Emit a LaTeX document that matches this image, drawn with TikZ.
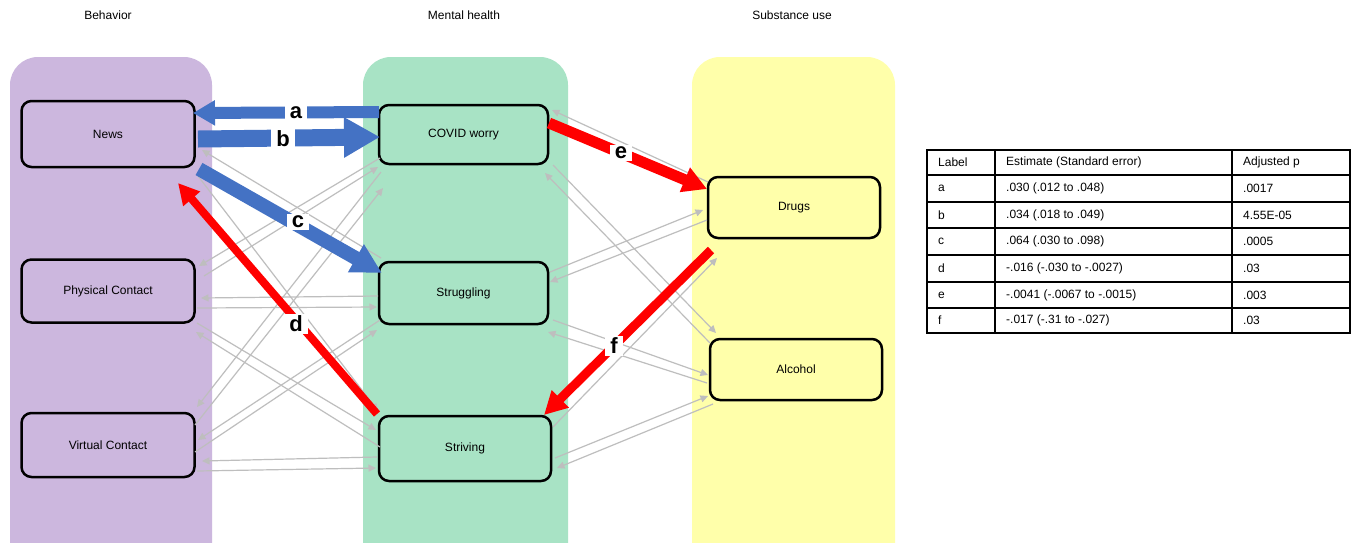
\documentclass[tikz,border=0pt]{standalone}
\usepackage{fontspec}
\setmainfont{Liberation Sans}
\usetikzlibrary{arrows.meta,calc}
\definecolor{colpurple}{RGB}{204,183,222}
\definecolor{colgreen}{RGB}{168,227,197}
\definecolor{colyellow}{RGB}{255,255,170}
\definecolor{arrblue}{RGB}{68,114,196}
\definecolor{arrred}{RGB}{255,0,0}
\definecolor{arrgray}{RGB}{190,190,190}
\tikzset{
  colbg/.style={rounded corners=28pt},
  varbox/.style={draw=black, line width=2.5pt, rounded corners=10pt, font=\fontsize{12}{14}\selectfont, inner sep=0pt},
  grayarr/.style={draw=arrgray, line width=1.2pt, -{Triangle[length=7.5pt,width=7pt]}},
  lbl/.style={fill=white, font=\bfseries\fontsize{22}{22}\selectfont, inner xsep=5pt, inner ysep=2pt},
  coltitle/.style={font=\fontsize{12}{14}\selectfont},
  cell/.style={anchor=west, font=\fontsize{12}{14}\selectfont, inner sep=0pt},
  tabline/.style={line width=1.2pt, black}
}
\begin{document}
\begin{tikzpicture}[x=1pt,y=-1pt]
\clip (0,0) rectangle (1356,542);
\fill[white] (0,0) rectangle (1356,542);
% column backgrounds
\fill[colpurple, colbg] (10,57) rectangle (212,580);
\fill[colgreen, colbg] (363,57) rectangle (568,580);
\fill[colyellow, colbg] (692,57) rectangle (895,580);
% titles
\node[coltitle] (t1) at (108,15) {Behavior};
\node[coltitle] (t2) at (464,15) {Mental health};
\node[coltitle] (t3) at (792,15) {Substance use};
% variable boxes
\node[varbox, fill=colpurple, minimum width=173pt, minimum height=66pt] (news) at (108,134) {News};
\node[varbox, fill=colpurple, minimum width=173pt, minimum height=63pt] (phys) at (108,291) {Physical Contact};
\node[varbox, fill=colpurple, minimum width=173pt, minimum height=64pt] (virt) at (108,445) {Virtual Contact};
\node[varbox, fill=colgreen, minimum width=169pt, minimum height=59pt] (covid) at (463.5,134.5) {COVID worry};
\node[varbox, fill=colgreen, minimum width=169pt, minimum height=62pt] (strug) at (463.5,293) {Struggling};
\node[varbox, fill=colgreen, minimum width=172pt, minimum height=65pt] (striv) at (465,448.5) {Striving};
\node[varbox, fill=colyellow, minimum width=172pt, minimum height=61pt] (drugs) at (794,207.5) {Drugs};
\node[varbox, fill=colyellow, minimum width=172pt, minimum height=61pt] (alco) at (796,369.5) {Alcohol};
% gray arrows behavior - mental health
\draw[grayarr] ($(strug)+(-82.5,-35)$) -- ($(news)+(94,16)$);
\draw[grayarr] ($(news)+(90,42)$) -- ($(striv)+(-87,-37.5)$);
\draw[grayarr] ($(covid)+(-83.5,23.5)$) -- ($(phys)+(91,-25)$);
\draw[grayarr] ($(phys)+(96,-15)$) -- ($(covid)+(-85.5,32.5)$);
\draw[grayarr] ($(covid)+(-82.5,37.5)$) -- ($(virt)+(89,-38)$);
\draw[grayarr] ($(virt)+(87,-20)$) -- ($(covid)+(-80.5,53.5)$);
\draw[grayarr] ($(strug)+(-85.5,3)$) -- ($(phys)+(93,7)$);
\draw[grayarr] ($(phys)+(89,17)$) -- ($(strug)+(-86.5,14)$);
\draw[grayarr] ($(phys)+(89,32)$) -- ($(striv)+(-89,-18.5)$);
\draw[grayarr] ($(striv)+(-85,-1.5)$) -- ($(phys)+(88,41)$);
\draw[grayarr] ($(strug)+(-83.5,27)$) -- ($(virt)+(90,-5)$);
\draw[grayarr] ($(virt)+(87,7)$) -- ($(strug)+(-86.5,37)$);
\draw[grayarr] ($(striv)+(-88,8.5)$) -- ($(virt)+(94,16)$);
\draw[grayarr] ($(virt)+(89,26)$) -- ($(striv)+(-89,19.5)$);
% gray arrows mental health - substance use
\draw[grayarr] ($(drugs)+(-86,-25.5)$) -- ($(covid)+(88.5,-24.5)$);
\draw[grayarr] ($(covid)+(89.5,30.5)$) -- ($(alco)+(-80,-36.5)$);
\draw[grayarr] ($(alco)+(-86,-26.5)$) -- ($(covid)+(81.5,38.5)$);
\draw[grayarr] ($(strug)+(86.5,-21)$) -- ($(drugs)+(-91,2.5)$);
\draw[grayarr] ($(drugs)+(-87,12.5)$) -- ($(strug)+(86.5,-11)$);
\draw[grayarr] ($(strug)+(89.5,27)$) -- ($(alco)+(-88,5.5)$);
\draw[grayarr] ($(alco)+(-89,13.5)$) -- ($(strug)+(84.5,39)$);
\draw[grayarr] ($(striv)+(88,-21.5)$) -- ($(drugs)+(-77,50.5)$);
\draw[grayarr] ($(striv)+(90,9.5)$) -- ($(alco)+(-88,26.5)$);
\draw[grayarr] ($(alco)+(-83,34.5)$) -- ($(striv)+(92,19.5)$);
% thick arrows
\draw[arrblue, line width=12pt, -{Triangle[length=22pt,width=24pt]}] ($(covid)+(-84.5,-22.5)$) -- ($(news)+(85,-21)$);
\draw[arrblue, line width=17pt, -{Triangle[length=36pt,width=38pt]}] ($(news)+(90,5)$) -- ($(covid)+(-83.5,2.5)$);
\draw[arrblue, line width=14pt, -{Triangle[length=30pt,width=30pt]}] ($(news)+(91,35)$) -- ($(strug)+(-81.5,-20)$);
\draw[arrred, line width=8pt, -{Triangle[length=21pt,width=21pt]}] ($(striv)+(-88,-34.5)$) -- ($(news)+(70,49)$);
\draw[arrred, line width=11pt, -{Triangle[length=24pt,width=25pt]}] ($(covid)+(85.5,-11.5)$) -- ($(drugs)+(-87,-18.5)$);
\draw[arrred, line width=9pt, -{Triangle[length=23pt,width=23pt]}] ($(drugs)+(-83,42.5)$) -- ($(striv)+(79,-33.5)$);
% labels
\node[lbl] (la) at (296,113) {a};
\node[lbl] (lb) at (283,139) {b};
\node[lbl] (lc) at (298,222) {c};
\node[lbl] (ld) at (296,324) {d};
\node[lbl] (le) at (621,153) {e};
\node[lbl] (lf) at (614,346) {f};
% table
\draw[tabline] (927,150) rectangle (1350,333);
\foreach \yy in {175,202,228,255,282,308} \draw[tabline] (927,\yy) -- (1350,\yy);
\draw[tabline] (995,150) -- (995,333);
\draw[tabline] (1232,150) -- (1232,333);
\node[cell] (h1) at (938,162.5) {Label};
\node[cell] (h2) at (1006,162.5) {Estimate (Standard error)};
\node[cell] (h3) at (1243,162.5) {Adjusted p};
\node[cell] (r1a) at (938,188.5) {a};
\node[cell] (r1b) at (1006,188.5) {.030 (.012 to .048)};
\node[cell] (r1c) at (1243,188.5) {.0017};
\node[cell] (r2a) at (938,215) {b};
\node[cell] (r2b) at (1006,215) {.034 (.018 to .049)};
\node[cell] (r2c) at (1243,215) {4.55E-05};
\node[cell] (r3a) at (938,241.5) {c};
\node[cell] (r3b) at (1006,241.5) {.064 (.030 to .098)};
\node[cell] (r3c) at (1243,241.5) {.0005};
\node[cell] (r4a) at (938,268.5) {d};
\node[cell] (r4b) at (1006,268.5) {-.016 (-.030 to -.0027)};
\node[cell] (r4c) at (1243,268.5) {.03};
\node[cell] (r5a) at (938,295) {e};
\node[cell] (r5b) at (1006,295) {-.0041 (-.0067 to -.0015)};
\node[cell] (r5c) at (1243,295) {.003};
\node[cell] (r6a) at (938,320.5) {f};
\node[cell] (r6b) at (1006,320.5) {-.017 (-.31 to -.027)};
\node[cell] (r6c) at (1243,320.5) {.03};
\end{tikzpicture}
\end{document}
